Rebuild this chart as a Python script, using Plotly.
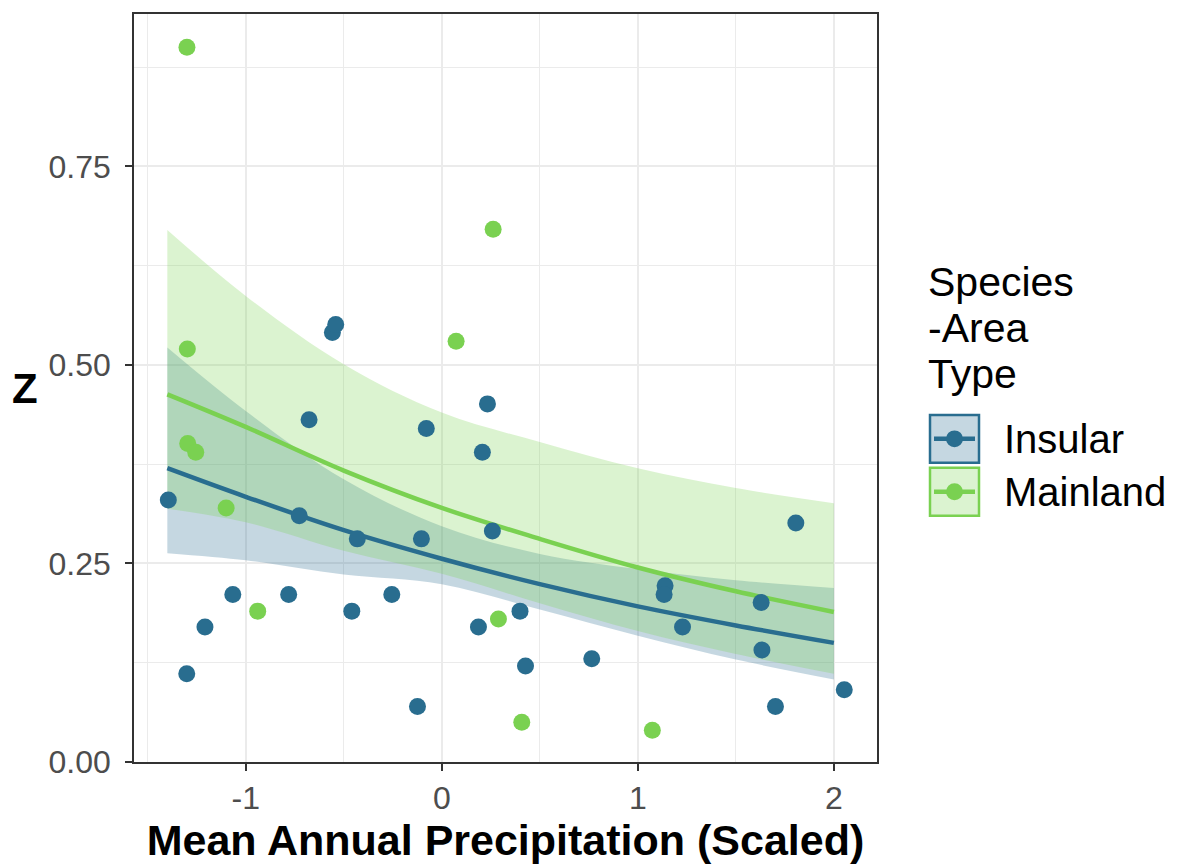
import plotly.graph_objects as go

# ---------------- data ----------------
insular_x = [-1.395, -1.301, -1.208, -1.066, -0.781, -0.727, -0.677, -0.558, -0.541, -0.459,
             -0.431, -0.255, -0.124, -0.104, -0.079, 0.187, 0.207, 0.233, 0.258, 0.399,
             0.427, 0.765, 1.139, 1.134, 1.228, 1.629, 1.633, 1.702, 1.806, 2.053]
insular_z = [0.330, 0.111, 0.170, 0.211, 0.211, 0.310, 0.431, 0.541, 0.551, 0.190,
             0.281, 0.211, 0.070, 0.281, 0.420, 0.170, 0.390, 0.451, 0.291, 0.190,
             0.121, 0.130, 0.222, 0.211, 0.170, 0.201, 0.141, 0.070, 0.301, 0.091]

mainland_x = [-1.300, -1.298, -1.296, -1.255, -1.100, -0.939, 0.073, 0.262, 0.289, 0.408, 1.074]
mainland_z = [0.900, 0.520, 0.401, 0.390, 0.320, 0.190, 0.530, 0.671, 0.180, 0.050, 0.040]

fit_x = [-1.4, -1.0, -0.5, 0.0, 0.5, 1.0, 1.5, 2.0]
insular_fit = [0.370, 0.334, 0.292, 0.256, 0.224, 0.196, 0.172, 0.150]
insular_lo = [0.263, 0.254, 0.236, 0.224, 0.192, 0.159, 0.129, 0.104]
insular_hi = [0.522, 0.442, 0.356, 0.297, 0.262, 0.243, 0.229, 0.219]
mainland_fit = [0.463, 0.422, 0.367, 0.320, 0.281, 0.245, 0.215, 0.189]
mainland_lo = [0.319, 0.302, 0.266, 0.237, 0.200, 0.165, 0.136, 0.111]
mainland_hi = [0.670, 0.587, 0.501, 0.440, 0.403, 0.370, 0.345, 0.326]

x_ticks = [-1, 0, 1, 2]
x_ticktext = ["-1", "0", "1", "2"]
x_minor = [-1.5, -0.5, 0.5, 1.5]
y_ticks = [0.0, 0.25, 0.50, 0.75]
y_ticktext = ["0.00", "0.25", "0.50", "0.75"]
y_minor = [0.125, 0.375, 0.625, 0.875]

groups = ["Insular", "Mainland"]
legend_title_lines = ["Species", "-Area", "Type"]
x_title = "Mean Annual Precipitation (Scaled)"
y_title = "Z"

# ---------------- styling ----------------
BLUE = "#296d8f"
GREEN = "#7ad151"
BLUE_FILL = "rgba(41,109,143,0.27)"
GREEN_FILL = "rgba(122,209,81,0.27)"
FONT = "Liberation Sans, Arial, sans-serif"

fig = go.Figure()

# ribbons
for lo, hi, fillc in [(insular_lo, insular_hi, BLUE_FILL), (mainland_lo, mainland_hi, GREEN_FILL)]:
    fig.add_trace(go.Scatter(x=fit_x, y=lo, mode="lines", line=dict(width=0, shape="spline"),
                             showlegend=False, hoverinfo="skip"))
    fig.add_trace(go.Scatter(x=fit_x, y=hi, mode="lines", line=dict(width=0, shape="spline"),
                             fill="tonexty", fillcolor=fillc, showlegend=False, hoverinfo="skip"))

# fitted lines
fig.add_trace(go.Scatter(x=fit_x, y=insular_fit, mode="lines",
                         line=dict(color=BLUE, width=4.5, shape="spline"), showlegend=False))
fig.add_trace(go.Scatter(x=fit_x, y=mainland_fit, mode="lines",
                         line=dict(color=GREEN, width=4.5, shape="spline"), showlegend=False))

# points
fig.add_trace(go.Scatter(x=insular_x, y=insular_z, mode="markers", name=groups[0],
                         marker=dict(color=BLUE, size=17, line=dict(width=0)), showlegend=False))
fig.add_trace(go.Scatter(x=mainland_x, y=mainland_z, mode="markers", name=groups[1],
                         marker=dict(color=GREEN, size=17, line=dict(width=0)), showlegend=False))

# ---------------- manual legend (ggplot-style keys) ----------------
L, R, T, B = 134, 877, 12, 762
W, H = R - L, B - T
def px(xp):
    return (xp - L) / W
def py(yp):
    return (B - yp) / H

shapes = []
annotations = []
for i, (g, col, fillc) in enumerate(zip(groups, [BLUE, GREEN], [BLUE_FILL, GREEN_FILL])):
    top = 414 + i * 53
    bot = top + 48
    cy = (top + bot) / 2
    shapes.append(dict(type="rect", xref="paper", yref="paper", x0=px(930), x1=px(979),
                       y0=py(bot), y1=py(top), fillcolor=fillc, line=dict(color=col, width=2.5)))
    shapes.append(dict(type="line", xref="paper", yref="paper", x0=px(934), x1=px(975),
                       y0=py(cy), y1=py(cy), line=dict(color=col, width=4.5)))
    shapes.append(dict(type="circle", xref="paper", yref="paper", x0=px(954.5 - 8.5), x1=px(954.5 + 8.5),
                       y0=py(cy + 8.5), y1=py(cy - 8.5), fillcolor=col, line=dict(width=0)))
    annotations.append(dict(text=g, xref="paper", yref="paper", x=px(1002), y=py(cy),
                            xanchor="left", yanchor="middle", showarrow=False,
                            font=dict(family=FONT, size=40, color="black")))

for j, line in enumerate(legend_title_lines):
    annotations.append(dict(text=line, xref="paper", yref="paper", x=px(926), y=py(281 + j * 46),
                            xanchor="left", yanchor="middle", showarrow=False,
                            font=dict(family=FONT, size=41, color="black")))

# horizontal (unrotated) y-axis title, as in the reference
annotations.append(dict(text="<b>%s</b>" % y_title, xref="paper", yref="paper", x=px(25), y=py(387),
                        xanchor="center", yanchor="middle", showarrow=False,
                        font=dict(family=FONT, size=42, color="black")))

axis_common = dict(
    showline=True, mirror=True, linecolor="#333333", linewidth=1.5,
    ticks="outside", ticklen=7, tickwidth=1.5, tickcolor="#333333",
    showgrid=True, gridcolor="#ebebeb", gridwidth=2, zeroline=False,
    tickfont=dict(family=FONT, size=32, color="#4d4d4d"),
)

fig.update_layout(
    width=1185, height=865,
    margin=dict(l=L, r=1185 - R, t=T, b=865 - B),
    paper_bgcolor="white", plot_bgcolor="white",
    font=dict(family=FONT),
    showlegend=False,
    xaxis=dict(range=[-1.57, 2.22], tickmode="array", tickvals=x_ticks, ticktext=x_ticktext,
               minor=dict(tickmode="array", tickvals=x_minor, showgrid=True, gridcolor="#ebebeb",
                          gridwidth=1, ticks=""),
               title=dict(text="<b>%s</b>" % x_title, standoff=3,
                          font=dict(family=FONT, size=43, color="black")),
               **axis_common),
    yaxis=dict(range=[0, 0.942], tickmode="array", tickvals=y_ticks, ticktext=y_ticktext,
               ticklabelstandoff=8,
               minor=dict(tickmode="array", tickvals=y_minor, showgrid=True, gridcolor="#ebebeb",
                          gridwidth=1, ticks=""),
               **axis_common),
    shapes=shapes,
    annotations=annotations,
)

fig.write_html("out.html")
